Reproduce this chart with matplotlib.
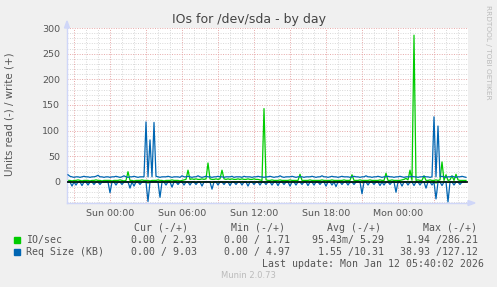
import numpy as np
import matplotlib
matplotlib.use("Agg")
import matplotlib.pyplot as plt
from matplotlib.patches import Polygon, Rectangle

W, H = 497, 287

# 10-minute samples, first one at Sat 20:30 (hours relative to Sun 00:00)
t_start = -3.5
step_h = 1 / 6.0

# IO/sec write (+)
io_wr = [
    3, 3, 2, 3, 3, 4, 3, 2, 3, 3, 3, 2, 3, 3, 4, 3, 3, 2, 3, 3,
    3, 3, 2, 3, 3, 3, 4, 3, 2, 3, 20, 3, 3, 2, 3, 3, 3, 4, 3, 3,
    3, 2, 3, 3, 3, 4, 3, 3, 2, 3, 3, 3, 4, 3, 3, 3, 2, 3, 4, 5,
    23, 5, 6, 5, 6, 5, 5, 6, 5, 6, 37, 6, 5, 5, 6, 5, 6, 23, 6, 5,
    6, 5, 6, 5, 5, 6, 5, 6, 5, 5, 6, 5, 5, 6, 5, 5, 4, 3, 143, 4,
    3, 3, 4, 3, 3, 3, 4, 3, 3, 3, 3, 4, 3, 3, 3, 3, 15, 3, 3, 3,
    3, 4, 3, 3, 3, 3, 3, 4, 3, 3, 3, 3, 4, 3, 3, 3, 3, 3, 4, 3,
    3, 3, 14, 3, 3, 3, 4, 3, 3, 3, 3, 4, 3, 3, 3, 3, 4, 3, 3, 17,
    3, 3, 4, 3, 3, 3, 3, 4, 5, 7, 4, 23, 3, 286, 3, 4, 3, 3, 12, 3,
    3, 4, 3, 3, 4, 3, 4, 39, 3, 14, 3, 4, 12, 3, 15, 4, 3, 3, 3, 3,
]
# IO/sec read (-)
io_rd = [
    0, 0, 0, 1, 0, 0, 0, 0, 0, 0, 1, 0, 0, 0, 0, 0, 0, 0, 1, 0,
    0, 0, 0, 0, 0, 1, 0, 0, 0, 0, 0, 0, 0, 0, 1, 0, 0, 0, 0, 0,
    2, 0, 0, 0, 0, 0, 1, 0, 0, 0, 0, 0, 0, 0, 0, 1, 0, 0, 0, 0,
    0, 0, 0, 0, 1, 0, 0, 0, 0, 0, 0, 0, 1, 0, 0, 0, 0, 0, 0, 0,
    0, 1, 0, 0, 0, 0, 0, 0, 0, 0, 1, 0, 0, 0, 0, 0, 0, 0, 0, 0,
    0, 0, 0, 0, 0, 1, 0, 0, 0, 0, 0, 0, 0, 0, 0, 0, 0, 0, 0, 0,
    0, 0, 0, 0, 0, 0, 0, 0, 0, 1, 0, 0, 0, 0, 0, 0, 0, 0, 0, 0,
    0, 0, 0, 0, 0, 0, 0, 1, 0, 0, 0, 0, 0, 0, 0, 0, 0, 0, 0, 0,
    0, 0, 0, 0, 1, 0, 0, 0, 0, 0, 0, 0, 0, 0, 0, 0, 0, 0, 0, 1,
    0, 0, 0, 0, 2, 0, 0, 0, 0, 0, 1, 0, 0, 0, 0, 0, 0, 0, 0, 0,
]
# Req Size (KB) write (+)
req_wr = [
    14, 11, 10, 9, 10, 10, 9, 10, 11, 10, 10, 9, 10, 10, 11, 13, 10, 10, 9, 10,
    10, 9, 10, 10, 11, 10, 9, 10, 12, 10, 9, 10, 10, 11, 10, 9, 10, 10, 10, 117,
    10, 82, 10, 116, 11, 10, 9, 10, 10, 10, 11, 10, 9, 10, 10, 10, 9, 12, 10, 10,
    11, 10, 9, 10, 10, 12, 10, 9, 10, 11, 10, 10, 9, 10, 10, 11, 10, 10, 9, 10,
    10, 10, 11, 9, 10, 10, 10, 9, 11, 10, 10, 10, 9, 10, 10, 11, 10, 10, 9, 10,
    10, 11, 10, 9, 10, 10, 12, 10, 9, 10, 10, 10, 11, 10, 9, 10, 10, 10, 9, 10,
    10, 10, 11, 10, 9, 10, 10, 12, 10, 10, 9, 10, 11, 10, 10, 9, 10, 11, 10, 10,
    10, 9, 10, 11, 10, 10, 9, 10, 10, 12, 10, 10, 9, 10, 10, 11, 10, 9, 10, 10,
    11, 10, 10, 9, 10, 10, 11, 10, 9, 10, 10, 10, 11, 10, 10, 9, 10, 10, 11, 10,
    10, 9, 10, 127, 10, 109, 10, 11, 10, 9, 10, 10, 11, 10, 9, 10, 10, 11, 10, 9,
]
# Req Size (KB) read (-)
req_rd = [
    0, 0, 8, 0, 6, 0, 0, 7, 0, 0, 6, 0, 0, 5, 0, 0, 5, 0, 0, 0,
    0, 21, 0, 0, 6, 0, 0, 5, 0, 0, 0, 12, 0, 8, 0, 0, 5, 0, 0, 0,
    38, 0, 0, 0, 0, 0, 30, 0, 0, 6, 0, 0, 10, 0, 0, 5, 0, 0, 6, 0,
    0, 6, 0, 0, 5, 0, 0, 8, 0, 0, 0, 0, 14, 0, 0, 6, 0, 0, 5, 0,
    0, 7, 0, 0, 5, 0, 0, 6, 0, 0, 8, 0, 0, 5, 0, 0, 6, 0, 0, 5,
    0, 0, 6, 0, 0, 7, 0, 0, 5, 0, 0, 8, 0, 0, 6, 0, 0, 5, 0, 0,
    7, 0, 0, 6, 0, 0, 5, 0, 0, 8, 0, 0, 6, 0, 9, 0, 0, 5, 0, 0,
    6, 0, 0, 5, 0, 0, 0, 23, 0, 0, 6, 0, 0, 5, 0, 0, 7, 0, 6, 0,
    0, 5, 0, 0, 20, 0, 0, 8, 0, 0, 6, 0, 0, 7, 0, 0, 6, 0, 0, 12,
    0, 0, 6, 0, 33, 0, 0, 7, 0, 0, 38.9, 0, 0, 6, 0, 0, 5, 0, 0, 0,
]

x_ticks = [0, 6, 12, 18, 24]
x_labels = ["Sun 00:00", "Sun 06:00", "Sun 12:00", "Sun 18:00", "Mon 00:00"]
y_ticks = [0, 50, 100, 150, 200, 250, 300]

series_names = ["IO/sec", "Req Size (KB)"]
series_colors = ["#00CC00", "#0066B3"]
col_headers = ["Cur (-/+)", "Min (-/+)", "Avg (-/+)", "Max (-/+)"]
stats = [
    ["0.00 / 2.93", "0.00 / 1.71", "95.43m/ 5.29", "1.94 /286.21"],
    ["0.00 / 9.03", "0.00 / 4.97", "1.55 /10.31", "38.93 /127.12"],
]


def px(x, y):
    # pixel position (from top-left) -> figure fraction
    return x / W, 1 - y / H


t = t_start + np.arange(len(req_wr)) * step_h

fig = plt.figure(figsize=(W / 100, H / 100), dpi=100, facecolor="#F0F0F0")
left, top, right, bottom = 67, 28, 468, 203
ax = fig.add_axes([left / W, 1 - bottom / H, (right - left) / W, (bottom - top) / H])
ax.set_facecolor("white")
ax.set_xlim((left - 110) / 12, (right - 110) / 12)
ax.set_ylim(-41, 300)

# grid: minor every 10 / 1h, major every 50 / 3h
for yv in range(-40, 301, 10):
    c = "#E6A8A8" if yv % 50 == 0 else "#D8D8D8"
    ax.axhline(yv, color=c, lw=0.7, ls=(0, (1, 1.5)), zorder=0)
for h in range(-3, 30):
    c = "#E6A8A8" if h % 3 == 0 else "#D8D8D8"
    ax.axvline(h, color=c, lw=0.7, ls=(0, (1, 1.5)), zorder=0)

ax.plot(t, -np.array(io_rd), color=series_colors[0], lw=0.9, zorder=2)
ax.plot(t, io_wr, color=series_colors[0], lw=0.9, zorder=2)
ax.plot(t, -np.array(req_rd), color=series_colors[1], lw=0.9, zorder=3)
ax.plot(t, req_wr, color=series_colors[1], lw=0.9, zorder=3)
ax.axhline(0, color="black", lw=1.1, zorder=4)

ax.set_xticks(x_ticks)
ax.set_xticklabels(x_labels)
ax.set_yticks(y_ticks)
ax.tick_params(length=0, labelsize=6.8, colors="#555555")
ax.tick_params(axis="y", pad=5)
ax.tick_params(axis="x", pad=4)
for s in ["top", "right"]:
    ax.spines[s].set_visible(False)
for s in ["left", "bottom"]:
    ax.spines[s].set_color("#CFD6F8")
    ax.spines[s].set_linewidth(1.0)

# axis arrows
ax_col = "#CFD6F8"
fig.patches.append(Polygon([px(64.5, 28), px(69.5, 28), px(67, 21)], closed=True,
                           transform=fig.transFigure, color=ax_col))
fig.patches.append(Polygon([px(468, 200.5), px(468, 205.5), px(475, 203)], closed=True,
                           transform=fig.transFigure, color=ax_col))

fig.text(*px(10, 114), "Units read (-) / write (+)", ha="center", va="center",
         rotation=90, fontsize=7.4, color="#555555")

fig.text(*px(249, 19), "IOs for /dev/sda - by day", ha="center", va="center",
         fontsize=9, color="#444444")
fig.text(*px(488, 52), "RRDTOOL / TOBI OETIKER", ha="center", va="center",
         rotation=270, fontsize=5.3, color="#BBBBBB")

mono = dict(family="DejaVu Sans Mono", fontsize=7.1, color="#555555", va="center")
head_x = [134, 231, 327, 423]
for x, s in zip(head_x, col_headers):
    fig.text(*px(x, 228), s, ha="left", **mono)

row_y = [240, 252]
val_x = [131, 224, 384, 478]
for r in range(2):
    y = row_y[r]
    fig.patches.append(Rectangle(px(14, y + 3), 6 / W, 6 / H, transform=fig.transFigure,
                                 color=series_colors[r]))
    fig.text(*px(26, y), series_names[r], ha="left", **mono)
    for j, s in enumerate(stats[r]):
        ha = "left" if j < 2 else "right"
        fig.text(*px(val_x[j], y), s, ha=ha, **mono)

fig.text(*px(262, 264), "Last update: Mon Jan 12 05:40:02 2026", ha="left", **mono)
fig.text(*px(248, 276), "Munin 2.0.73", ha="center", va="center", fontsize=6,
         color="#BBBBBB")

fig.savefig("out.png", dpi=100, facecolor=fig.get_facecolor())
